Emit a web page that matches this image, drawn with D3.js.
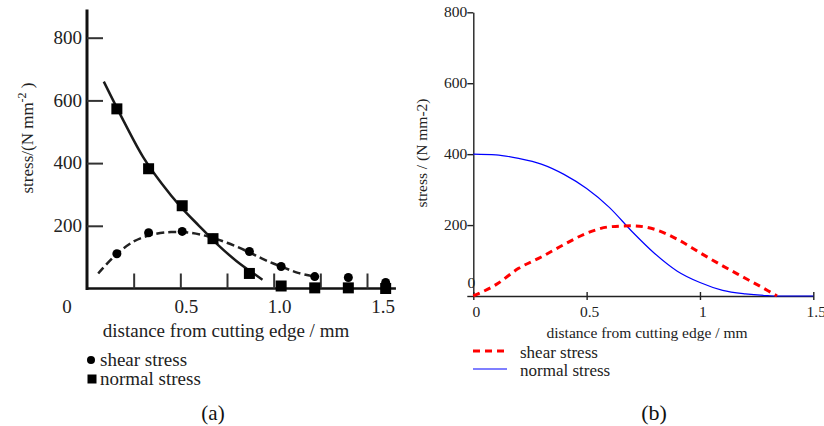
<!DOCTYPE html>
<html>
<head>
<meta charset="utf-8">
<script src="https://cdn.jsdelivr.net/npm/d3@7"></script>
<style>
  body { margin: 0; background: #fff; }
  text { font-family: "Liberation Serif", "Times New Roman", serif; }
</style>
</head>
<body>
<div id="chart"></div>
<script>
/* DATA */
// panel (a): measured points
const measuredX = [0.16, 0.33, 0.51, 0.675, 0.87, 1.04, 1.22, 1.40, 1.60];
const measuredShear = [111, 178, 182, 160, 118, 70, 38, 35, 19];
const measuredNormal = [573, 382, 264, 159, 48, 8, 2, 2, 0];
// panel (a): fitted curves
const fitNormalX = [0.09, 0.2, 0.3, 0.4, 0.5, 0.6, 0.7, 0.8, 0.94];
const fitNormalY = [660, 530, 420, 335, 262, 200, 140, 88, 28];
const fitShearX = [0.06, 0.15, 0.25, 0.35, 0.45, 0.55, 0.65, 0.75, 0.86, 0.95, 1.04, 1.13, 1.22];
const fitShearY = [48, 105, 150, 172, 180, 178, 166, 146, 118, 92, 70, 50, 38];
// panel (b): model curves
const modelX = [0, 0.1, 0.2, 0.3, 0.4, 0.5, 0.6, 0.7, 0.8, 0.9, 1.0, 1.1, 1.2, 1.3, 1.34, 1.4, 1.5];
const modelShear = [0, 32, 78, 110, 145, 177, 195, 198, 188, 160, 122, 85, 50, 15, 0, null, null];
const modelNormal = [400, 398, 388, 372, 343, 303, 250, 182, 120, 70, 38, 16, 6, 1, 0, 0, 0];

const yTicks = [0, 200, 400, 600, 800];
const aXTicks = [0.25, 0.5, 0.75, 1.0, 1.25, 1.5];
const aXLabels = [0, 0.5, 1.0, 1.5];
const bXTicks = [0, 0.5, 1, 1.5];
const seriesNames = ["shear stress", "normal stress"];

const width = 824, height = 426;

const svg = d3.select("#chart").append("svg")
  .attr("width", width)
  .attr("height", height);

svg.append("rect").attr("width", width).attr("height", height).attr("fill", "#fff");

/* ---------- PANEL (a) ---------- */
const ink = "#111";
const xA = d3.scaleLinear().domain([0, 1.5]).range([87, 367]);
const yA = d3.scaleLinear().domain([0, 800]).range([288.5, 37.7]);

const a = svg.append("g");

// axis lines
a.append("line")
  .attr("x1", xA(0)).attr("x2", xA(0))
  .attr("y1", yA(0) + 1.5).attr("y2", yA(890))
  .attr("stroke", ink).attr("stroke-width", 3);
a.append("line")
  .attr("x1", xA(0)).attr("x2", xA(1.655))
  .attr("y1", yA(0)).attr("y2", yA(0))
  .attr("stroke", ink).attr("stroke-width", 2.5);

// y ticks (inside, to the right)
const aY = a.append("g")
  .attr("transform", `translate(${xA(0)},0)`)
  .call(d3.axisRight(yA).tickValues(yTicks.slice(1)).tickSize(16).tickFormat(""));
aY.select(".domain").remove();
aY.selectAll("line").attr("stroke", "#333").attr("stroke-width", 2);

a.selectAll(".ylab")
  .data(yTicks.slice(1))
  .join("text")
  .attr("class", "ylab")
  .attr("x", xA(0) - 5)
  .attr("y", d => yA(d))
  .attr("dy", "0.33em")
  .attr("text-anchor", "end")
  .attr("font-size", 19)
  .attr("fill", "#222")
  .text(d => d);

// x ticks (upward)
const aX = a.append("g")
  .attr("transform", `translate(0,${yA(0)})`)
  .call(d3.axisTop(xA).tickValues(aXTicks).tickSize(15).tickFormat(""));
aX.select(".domain").remove();
aX.selectAll("line").attr("stroke", "#333").attr("stroke-width", 2);

// labels sit a little off their ticks in the scan
const aNudge = d => d === 0 ? -20 : d === 1.5 ? 16 : 6;
a.selectAll(".xlab")
  .data(aXLabels)
  .join("text")
  .attr("class", "xlab")
  .attr("x", d => xA(d) + aNudge(d))
  .attr("y", 313)
  .attr("text-anchor", "middle")
  .attr("font-size", 19)
  .attr("fill", "#222")
  .text(d => d === 0 ? "0" : d.toFixed(1));

a.append("text")
  .attr("x", 226).attr("y", 337)
  .attr("text-anchor", "middle")
  .attr("font-size", 19)
  .attr("fill", "#222")
  .text("distance from cutting edge / mm");

const aTitle = a.append("text")
  .attr("transform", "translate(33,138) rotate(-90)")
  .attr("text-anchor", "middle")
  .attr("font-size", 17)
  .attr("fill", "#222");
aTitle.append("tspan").text("stress/(N mm");
aTitle.append("tspan").attr("dy", -7).attr("font-size", 12).text("-2");
aTitle.append("tspan").attr("dy", 7).text(" )");

// fitted curves
const lineA = d3.line()
  .x(d => xA(d[0]))
  .y(d => yA(d[1]))
  .curve(d3.curveCatmullRom);

a.append("path")
  .datum(fitNormalX.map((x, i) => [x, fitNormalY[i]]))
  .attr("d", lineA)
  .attr("fill", "none")
  .attr("stroke", "#1a1a1a")
  .attr("stroke-width", 2.5);

a.append("path")
  .datum(fitShearX.map((x, i) => [x, fitShearY[i]]))
  .attr("d", lineA)
  .attr("fill", "none")
  .attr("stroke", "#222")
  .attr("stroke-width", 2.5)
  .attr("stroke-dasharray", "8,4");

// measured points
a.selectAll(".pt-shear")
  .data(measuredX.map((x, i) => [x, measuredShear[i]]))
  .join("circle")
  .attr("class", "pt-shear")
  .attr("cx", d => xA(d[0]))
  .attr("cy", d => yA(d[1]))
  .attr("r", 4.5)
  .attr("fill", "#000");

const sq = 11;
a.selectAll(".pt-normal")
  .data(measuredX.map((x, i) => [x, measuredNormal[i]]))
  .join("rect")
  .attr("class", "pt-normal")
  .attr("x", d => xA(d[0]) - sq / 2)
  .attr("y", d => yA(d[1]) - sq / 2)
  .attr("width", sq)
  .attr("height", sq)
  .attr("fill", "#000");

// legend (a)
a.append("circle").attr("cx", 91).attr("cy", 360).attr("r", 4).attr("fill", "#000");
a.append("rect").attr("x", 87.5).attr("y", 374.5).attr("width", 9).attr("height", 9).attr("fill", "#000");
a.selectAll(".leg")
  .data(seriesNames)
  .join("text")
  .attr("class", "leg")
  .attr("x", 100)
  .attr("y", (d, i) => 366 + i * 19)
  .attr("font-size", 19)
  .attr("fill", "#222")
  .text(d => d);

a.append("text")
  .attr("x", 213).attr("y", 420)
  .attr("text-anchor", "middle")
  .attr("font-size", 21)
  .attr("fill", "#111")
  .text("(a)");

/* ---------- PANEL (b) ---------- */
const xB = d3.scaleLinear().domain([0, 1.5]).range([473.3, 813.3]);
const yB = d3.scaleLinear().domain([0, 800]).range([296, 12.3]);

const b = svg.append("g");

const bY = b.append("g")
  .attr("transform", `translate(${xB(0)},0)`)
  .call(d3.axisLeft(yB).tickValues(yTicks).tickSize(6).tickSizeOuter(0).tickFormat(""));
bY.select(".domain").attr("stroke", "#222").attr("stroke-width", 1.4);
bY.selectAll("line").attr("stroke", "#222").attr("stroke-width", 1.4);

b.selectAll(".ylab")
  .data(yTicks)
  .join("text")
  .attr("class", "ylab")
  .attr("x", d => d === 0 ? xB(0) + 2 : xB(0) - 6)
  .attr("y", d => d === 0 ? yB(d) - 13 : yB(d))
  .attr("dy", "0.33em")
  .attr("text-anchor", "end")
  .attr("font-size", 15.5)
  .attr("fill", "#222")
  .text(d => d);

const bX = b.append("g")
  .attr("transform", `translate(0,${yB(0)})`)
  .call(d3.axisBottom(xB).tickValues(bXTicks).tickSize(4).tickSizeOuter(0).tickFormat(""));
bX.select(".domain").attr("stroke", "#222").attr("stroke-width", 1.4);
bX.selectAll("line").attr("y1", -4).attr("stroke", "#222").attr("stroke-width", 1.4);

b.selectAll(".xlab")
  .data(bXTicks)
  .join("text")
  .attr("class", "xlab")
  .attr("x", d => xB(d) + 3)
  .attr("y", 317)
  .attr("text-anchor", "middle")
  .attr("font-size", 15.5)
  .attr("fill", "#222")
  .text(d => d);

b.append("text")
  .attr("x", 647).attr("y", 338)
  .attr("text-anchor", "middle")
  .attr("font-size", 15.5)
  .attr("fill", "#222")
  .text("distance from cutting edge / mm");

b.append("text")
  .attr("transform", "translate(427,153) rotate(-90)")
  .attr("text-anchor", "middle")
  .attr("font-size", 15.5)
  .attr("fill", "#222")
  .text("stress / (N mm-2)");

const lineB = d3.line()
  .defined(d => d[1] !== null)
  .x(d => xB(d[0]))
  .y(d => yB(d[1]))
  .curve(d3.curveMonotoneX);

b.append("path")
  .datum(modelX.map((x, i) => [x, modelNormal[i]]))
  .attr("d", lineB)
  .attr("fill", "none")
  .attr("stroke", "#0000ff")
  .attr("stroke-width", 1.2);

b.append("path")
  .datum(modelX.map((x, i) => [x, modelShear[i]]))
  .attr("d", lineB)
  .attr("fill", "none")
  .attr("stroke", "#ff0000")
  .attr("stroke-width", 3)
  .attr("stroke-dasharray", "7,5");

// legend (b)
const bLeg = b.selectAll(".legb")
  .data(seriesNames)
  .join("g")
  .attr("class", "legb")
  .attr("transform", (d, i) => `translate(473,${351 + i * 18})`);
bLeg.append("line")
  .attr("x1", 0).attr("x2", 34)
  .attr("stroke", (d, i) => i === 0 ? "#ff0000" : "#0000ff")
  .attr("stroke-width", (d, i) => i === 0 ? 3 : 1.2)
  .attr("stroke-dasharray", (d, i) => i === 0 ? "7,5" : null);
bLeg.append("text")
  .attr("x", 47)
  .attr("y", 7)
  .attr("font-size", 17)
  .attr("fill", "#222")
  .text(d => d);

b.append("text")
  .attr("x", 654).attr("y", 420)
  .attr("text-anchor", "middle")
  .attr("font-size", 22)
  .attr("fill", "#111")
  .text("(b)");
</script>
</body>
</html>
